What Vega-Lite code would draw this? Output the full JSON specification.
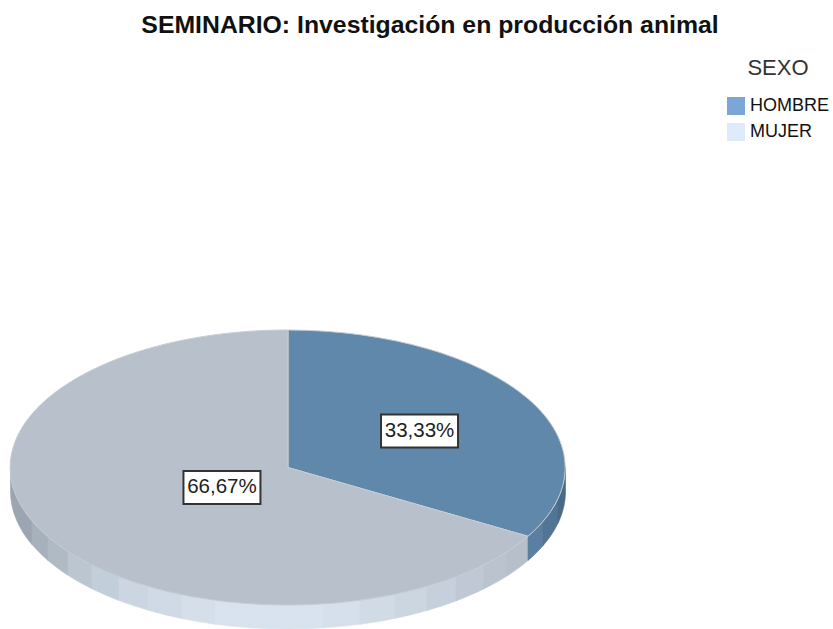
{
"$schema":"https://vega.github.io/schema/vega-lite/v6.json",
"width":555,"height":275,
"autosize":{"type":"none"},
"padding":{"left":10.5,"top":330,"right":267.5,"bottom":24},
"background":"white",
"title":{"text":"SEMINARIO: Investigación en producción animal","font":"Liberation Sans","fontSize":24.8,"fontWeight":"bold","color":"#111111","anchor":"middle","frame":"group","dx":142,"offset":20},
"config":{"view":{"stroke":null}},
"datasets":{
"sectores":[{"SEXO":"HOMBRE","porcentaje":33.33,"etiqueta":"33,33%","px":0.474,"py":0.265},{"SEXO":"MUJER","porcentaje":66.67,"etiqueta":"66,67%","px":-0.238,"py":-0.145}],
"caras":[{"cara":"g01"},{"cara":"g02"},{"cara":"g03"},{"cara":"g04"},{"cara":"g05"},{"cara":"g06"},{"cara":"g07"},{"cara":"g08"},{"cara":"g09"},{"cara":"g10"},{"cara":"g11"},{"cara":"g12"},{"cara":"g13"},{"cara":"g14"},{"cara":"g15"},{"cara":"g16"},{"cara":"g17"},{"cara":"b01"},{"cara":"b02"},{"cara":"b03"}]
},
"layer":[
{"data":{"name":"caras"},
"mark":{"type":"point","filled":true,"size":4,"opacity":1,"strokeWidth":0.6},
"encoding":{
"shape":{"field":"cara","type":"nominal","legend":null,"scale":{"domain":["g01","g02","g03","g04","g05","g06","g07","g08","g09","g10","g11","g12","g13","g14","g15","g16","g17","b01","b02","b03"],
"range":[
"M-277.5 0 A277.5 137.5 0 0 0 -256 53.1 L-256 77.1 A277.5 137.5 0 0 1 -277.5 24 Z",
"M-256 53.1 A277.5 137.5 0 0 0 -240 69 L-240 93 A277.5 137.5 0 0 1 -256 77.1 Z",
"M-240 69 A277.5 137.5 0 0 0 -220 83.8 L-220 107.8 A277.5 137.5 0 0 1 -240 93 Z",
"M-220 83.8 A277.5 137.5 0 0 0 -196 97.3 L-196 121.3 A277.5 137.5 0 0 1 -220 107.8 Z",
"M-196 97.3 A277.5 137.5 0 0 0 -169 109.1 L-169 133.1 A277.5 137.5 0 0 1 -196 121.3 Z",
"M-169 109.1 A277.5 137.5 0 0 0 -140 118.7 L-140 142.7 A277.5 137.5 0 0 1 -169 133.1 Z",
"M-140 118.7 A277.5 137.5 0 0 0 -106 127.1 L-106 151.1 A277.5 137.5 0 0 1 -140 142.7 Z",
"M-106 127.1 A277.5 137.5 0 0 0 -73 132.7 L-73 156.7 A277.5 137.5 0 0 1 -106 151.1 Z",
"M-73 132.7 A277.5 137.5 0 0 0 -38 136.2 L-38 160.2 A277.5 137.5 0 0 1 -73 156.7 Z",
"M-38 136.2 A277.5 137.5 0 0 0 36 136.3 L36 160.3 A277.5 137.5 0 0 1 -38 160.2 Z",
"M36 136.3 A277.5 137.5 0 0 0 72 132.8 L72 156.8 A277.5 137.5 0 0 1 36 160.3 Z",
"M72 132.8 A277.5 137.5 0 0 0 107 126.9 L107 150.9 A277.5 137.5 0 0 1 72 156.8 Z",
"M107 126.9 A277.5 137.5 0 0 0 139 119 L139 143 A277.5 137.5 0 0 1 107 150.9 Z",
"M139 119 A277.5 137.5 0 0 0 168 109.4 L168 133.4 A277.5 137.5 0 0 1 139 143 Z",
"M168 109.4 A277.5 137.5 0 0 0 196 97.3 L196 121.3 A277.5 137.5 0 0 1 168 133.4 Z",
"M196 97.3 A277.5 137.5 0 0 0 219 84.5 L219 108.5 A277.5 137.5 0 0 1 196 121.3 Z",
"M219 84.5 A277.5 137.5 0 0 0 240 69 L240 93 A277.5 137.5 0 0 1 219 108.5 Z",
"M240 69 A277.5 137.5 0 0 0 255 54.2 L255 78.2 A277.5 137.5 0 0 1 240 93 Z",
"M255 54.2 A277.5 137.5 0 0 0 270 31.7 L270 55.7 A277.5 137.5 0 0 1 255 78.2 Z",
"M270 31.7 A277.5 137.5 0 0 0 277.5 0 L277.5 24 A277.5 137.5 0 0 1 270 55.7 Z"
]}},
"fill":{"field":"cara","type":"nominal","legend":null,"scale":{"domain":["g01","g02","g03","g04","g05","g06","g07","g08","g09","g10","g11","g12","g13","g14","g15","g16","g17","b01","b02","b03"],
"range":["#9ca6b2","#a7b1bc","#b0bac5","#bcc6d1","#c3cedb","#ccd6e2","#d0dae6","#d5dfea","#d9e3ef","#d9e3ef","#d6e0ec","#d1dbe6","#ccd6e1","#c6d0dc","#bfc8d4","#bbc3ce","#b7bfca","#5a7fa2","#527596","#4a6a8a"]}},
"stroke":{"field":"cara","type":"nominal","legend":null,"scale":{"domain":["g01","g02","g03","g04","g05","g06","g07","g08","g09","g10","g11","g12","g13","g14","g15","g16","g17","b01","b02","b03"],
"range":["#9ca6b2","#a7b1bc","#b0bac5","#bcc6d1","#c3cedb","#ccd6e2","#d0dae6","#d5dfea","#d9e3ef","#d9e3ef","#d6e0ec","#d1dbe6","#ccd6e1","#c6d0dc","#bfc8d4","#bbc3ce","#b7bfca","#5a7fa2","#527596","#4a6a8a"]}}
}},
{"data":{"name":"sectores"},
"mark":{"type":"point","filled":true,"size":4,"opacity":1,"stroke":"#c6ccd2","strokeWidth":1},
"encoding":{
"shape":{"field":"SEXO","type":"nominal","legend":null,"scale":{"domain":["HOMBRE","MUJER"],"range":["M0 0 L0 -137.5 A277.5 137.5 0 0 1 240 68.75 Z","M0 0 L240 68.75 A277.5 137.5 0 1 1 0 -137.5 Z"]}},
"fill":{"field":"SEXO","type":"nominal","legend":null,"scale":{"domain":["HOMBRE","MUJER"],"range":["#6088ab","#b8c0cb"]}}
}},
{"data":{"name":"sectores"},
"mark":{"type":"point","filled":true,"size":4,"opacity":1,"fill":"white","stroke":"#333333","strokeWidth":2,"shape":"M-38.5 -16.5 L38.5 -16.5 L38.5 16.5 L-38.5 16.5 Z"},
"encoding":{
"x":{"field":"px","type":"quantitative","axis":null,"scale":{"domain":[-1,1]}},
"y":{"field":"py","type":"quantitative","axis":null,"scale":{"domain":[-1,1]}}
}},
{"data":{"name":"sectores"},
"mark":{"type":"text","font":"Liberation Sans","fontSize":20.5,"color":"#222222","align":"center","baseline":"middle"},
"encoding":{
"x":{"field":"px","type":"quantitative","axis":null,"scale":{"domain":[-1,1]}},
"y":{"field":"py","type":"quantitative","axis":null,"scale":{"domain":[-1,1]}},
"text":{"field":"etiqueta","type":"nominal"}
}},
{"data":{"name":"sectores"},
"mark":{"type":"square","size":0,"opacity":1},
"encoding":{
"fill":{"field":"SEXO","type":"nominal","title":"SEXO","scale":{"domain":["HOMBRE","MUJER"],"range":["#7ba7d6","#dfeafa"]},
"legend":{"orient":"none","legendX":716.5,"legendY":-272,"padding":0,"symbolType":"square","symbolSize":324,"symbolStrokeWidth":0,"symbolOpacity":1,"rowPadding":8,"labelOffset":5,"labelFont":"Liberation Sans","labelFontSize":18,"labelColor":"#111111","titleFont":"Liberation Sans","titleFontSize":22,"titleFontWeight":"normal","titleColor":"#333333","titlePadding":17,"titleAnchor":"middle"}}
}}
],
"resolve":{"scale":{"fill":"independent","shape":"independent","stroke":"independent"}}
}
